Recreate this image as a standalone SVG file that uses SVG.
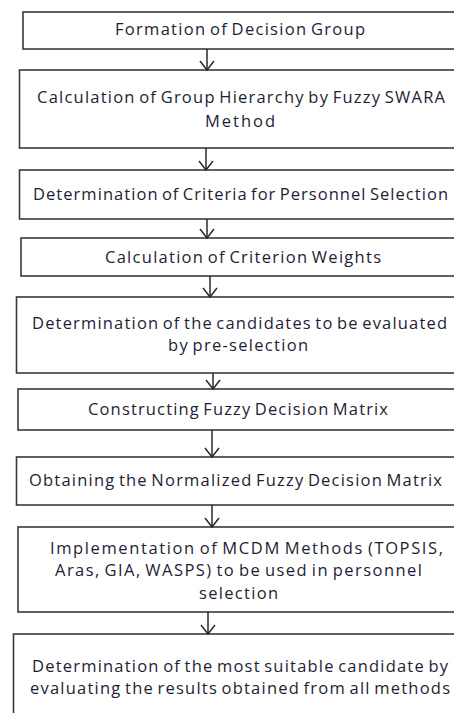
<svg xmlns="http://www.w3.org/2000/svg" width="454" height="713" viewBox="0 0 454 713">
<style>
.box{fill:#ffffff;stroke:#3a3a3a;stroke-width:1.6}
.t{font-family:"Open Sans","Liberation Sans",sans-serif;font-size:16.5px;fill:#1e1e34;word-spacing:-2px}
.c{stroke:#2a2a2a;stroke-width:1.5;fill:none}
</style>
<defs>
<marker id="arr" markerUnits="userSpaceOnUse" markerWidth="20" markerHeight="20" viewBox="-10 -10 20 20" refX="0" refY="0" orient="auto">
<path d="M-9,-7 L0,0 L-9,7" fill="none" stroke="#2a2a2a" stroke-width="1.5"/>
</marker>
</defs>
<rect width="454" height="713" fill="#ffffff"/>
<g id="n1"><rect class="box" x="23" y="12" width="440" height="37"/>
<text class="t" x="115" y="35" textLength="250" lengthAdjust="spacing">Formation of Decision Group</text></g>
<g id="n2"><rect class="box" x="19.5" y="70" width="444" height="78"/>
<text class="t" x="37" y="103" textLength="408" lengthAdjust="spacing">Calculation of Group Hierarchy by Fuzzy SWARA</text>
<text class="t" x="205" y="127" textLength="70" lengthAdjust="spacing">Method</text></g>
<g id="n3"><rect class="box" x="19.5" y="170" width="444" height="49"/>
<text class="t" x="33" y="200" textLength="415" lengthAdjust="spacing">Determination of Criteria for Personnel Selection</text></g>
<g id="n4"><rect class="box" x="21" y="238" width="442" height="38"/>
<text class="t" x="105" y="263" textLength="276" lengthAdjust="spacing">Calculation of Criterion Weights</text></g>
<g id="n5"><rect class="box" x="16.5" y="297" width="447" height="76"/>
<text class="t" x="32" y="329" textLength="415" lengthAdjust="spacing">Determination of the candidates to be evaluated</text>
<text class="t" x="168" y="351" textLength="140" lengthAdjust="spacing">by pre-selection</text></g>
<g id="n6"><rect class="box" x="18" y="389" width="445" height="41"/>
<text class="t" x="88" y="415" textLength="300" lengthAdjust="spacing">Constructing Fuzzy Decision Matrix</text></g>
<g id="n7"><rect class="box" x="16.5" y="457" width="447" height="48"/>
<text class="t" x="29" y="486" textLength="413" lengthAdjust="spacing">Obtaining the Normalized Fuzzy Decision Matrix</text></g>
<g id="n8"><rect class="box" x="18" y="527" width="445" height="85"/>
<text class="t" x="50" y="554" textLength="393" lengthAdjust="spacing">Implementation of MCDM Methods (TOPSIS,</text>
<text class="t" x="55" y="576" textLength="367" lengthAdjust="spacing">Aras, GIA, WASPS) to be used in personnel</text>
<text class="t" x="199" y="599" textLength="79" lengthAdjust="spacing">selection</text></g>
<g id="n9"><rect class="box" x="13.5" y="634" width="450" height="90"/>
<text class="t" x="32" y="672" textLength="416" lengthAdjust="spacing">Determination of the most suitable candidate by</text>
<text class="t" x="30" y="694" textLength="420" lengthAdjust="spacing">evaluating the results obtained from all methods</text></g>
<g id="connectors">
<line class="c" x1="207" y1="49" x2="207" y2="70" marker-end="url(#arr)"/>
<line class="c" x1="206" y1="148" x2="206" y2="170" marker-end="url(#arr)"/>
<line class="c" x1="207" y1="219" x2="207" y2="238" marker-end="url(#arr)"/>
<line class="c" x1="210" y1="276" x2="210" y2="297" marker-end="url(#arr)"/>
<line class="c" x1="213" y1="373" x2="213" y2="389" marker-end="url(#arr)"/>
<line class="c" x1="212" y1="430" x2="212" y2="457" marker-end="url(#arr)"/>
<line class="c" x1="212" y1="505" x2="212" y2="527" marker-end="url(#arr)"/>
<line class="c" x1="208" y1="612" x2="208" y2="634" marker-end="url(#arr)"/>
</g>
</svg>
